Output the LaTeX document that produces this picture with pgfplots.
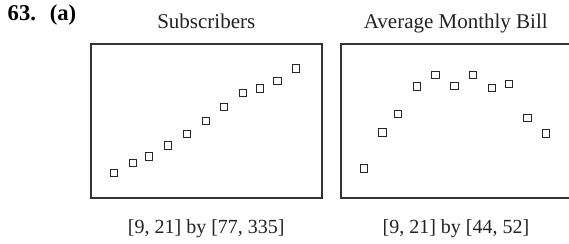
\documentclass[border=0pt]{standalone}
\usepackage{pgfplots}
\pgfplotsset{compat=1.18}
\usepackage{fontspec}
\setmainfont{Liberation Serif}
\definecolor{frame}{HTML}{333333}
\definecolor{txt}{HTML}{222222}
\begin{document}
\begin{tikzpicture}
\useasboundingbox (0pt,0pt) rectangle (284.5pt,-121.5pt);
\pgfplotsset{
  scr/.style={
    anchor=north west, scale only axis,
    width=115.35pt, height=76.7pt,
    xmin=9, xmax=21,
    xtick=\empty, ytick=\empty,
    axis line style={frame, line width=0.9pt},
    clip=false,
  },
  pts/.style={only marks, mark=square, mark size=1.85pt,
    mark options={draw=black!85, line width=0.5pt, fill=white}},
}
\begin{axis}[scr, at={(45.5pt,-22.15pt)}, ymin=77, ymax=335]
\addplot[pts] coordinates {
(10.21,119.0) (11.17,134.9) (12.03,146.6) (13.02,164.5) (13.98,184.6)
(14.98,206.5) (15.93,229.5) (16.92,253.1) (17.79,261.0) (18.71,272.8)
(19.65,294.6)};
\end{axis}
\begin{axis}[scr, at={(170.35pt,-22.15pt)}, ymin=44, ymax=52]
\addplot[pts] coordinates {
(10.21,45.53) (11.18,47.41) (11.98,48.37) (12.97,49.81) (13.94,50.41)
(14.91,49.83) (15.87,50.40) (16.87,49.71) (17.75,49.93) (18.71,48.16)
(19.68,47.34)};
\end{axis}
\node[anchor=base west, inner sep=0pt, font=\fontsize{11.3}{13}\selectfont\bfseries] at (3.65pt,-10pt) {63.\hspace{3.2pt} (a)};
\node[anchor=base, inner sep=0pt, text=txt, font=\fontsize{10.5}{12}\selectfont] at (103.15pt,-14.15pt) {Subscribers};
\node[anchor=base, inner sep=0pt, text=txt, font=\fontsize{10.5}{12}\selectfont] at (227.9pt,-14.15pt) {Average Monthly Bill};
\node[anchor=base, inner sep=0pt, text=txt, font=\fontsize{10}{12}\selectfont] at (103.15pt,-116.5pt) {[9, 21] by [77, 335]};
\node[anchor=base, inner sep=0pt, text=txt, font=\fontsize{10}{12}\selectfont] at (228pt,-116.5pt) {[9, 21] by [44, 52]};
\end{tikzpicture}
\end{document}
